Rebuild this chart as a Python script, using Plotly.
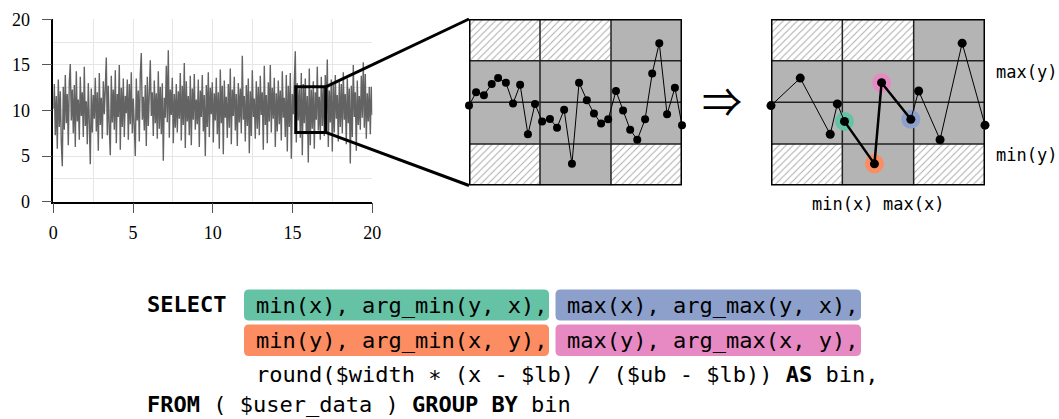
import plotly.graph_objects as go

W, H = 1059, 419

# ---------------- data ----------------
series_y = [
    10.2, 12.9, 7.3, 11.6, 5.8, 13.4, 8.2, 12.1, 6.5, 3.9, 12.6, 7.9, 13.9, 8.6, 11.8, 6.2, 13.1, 15.1, 8.9, 12.3,
    7.5, 12.8, 6.0, 14.3, 8.8, 11.2, 6.8, 13.7, 9.4, 12.0, 7.1, 14.8, 8.3, 11.0, 6.3, 13.0, 8.7, 4.1, 12.4, 7.6,
    11.7, 9.1, 13.6, 7.7, 12.0, 5.6, 14.1, 8.4, 11.4, 6.9, 13.2, 9.6, 12.5, 15.8, 7.3, 12.7, 8.0, 5.1, 13.8, 8.7,
    12.3, 7.9, 14.4, 6.4, 11.8, 9.3, 15.0, 5.7, 12.5, 8.2, 13.5, 7.1, 11.6, 9.7, 13.4, 6.8, 12.9, 8.5, 14.2, 7.5,
    11.3, 8.4, 5.0, 13.5, 8.9, 12.2, 6.6, 14.0, 16.3, 9.0, 11.5, 7.8, 12.8, 6.1, 13.7, 8.3, 12.6, 15.5, 9.4, 12.0,
    7.2, 13.3, 8.6, 11.9, 6.9, 14.3, 8.0, 12.6, 7.4, 13.0, 4.5, 11.4, 9.2, 14.9, 8.7, 16.6, 7.0, 12.3, 9.5, 13.6,
    6.4, 11.8, 8.1, 12.9, 7.6, 12.1, 9.1, 14.1, 6.7, 12.7, 8.4, 15.2, 5.9, 13.2, 8.8, 11.6, 7.3, 13.8, 6.2, 12.4,
    9.0, 14.0, 7.9, 11.2, 8.5, 13.4, 6.0, 12.2, 9.3, 13.9, 7.7, 11.7, 5.0, 12.8, 8.2, 14.2, 7.1, 12.5, 9.6, 13.1,
    6.5, 11.9, 8.9, 13.6, 7.4, 12.0, 5.8, 14.5, 8.6, 12.7, 5.2, 13.3, 9.2, 11.5, 7.0, 12.9, 8.1, 14.6, 6.3, 12.3,
    9.4, 13.7, 7.8, 11.8, 6.1, 13.0, 8.7, 12.4, 7.5, 16.0, 9.0, 11.6, 6.6, 12.8, 8.3, 13.5, 5.3, 12.1, 7.2, 14.4,
    9.3, 11.3, 6.9, 13.2, 8.0, 12.6, 7.3, 13.8, 9.5, 12.0, 5.7, 14.9, 8.4, 11.7, 6.4, 13.1, 8.8, 15.0, 7.6, 12.5,
    9.1, 13.6, 6.0, 11.9, 7.7, 13.3, 8.5, 12.2, 6.7, 14.3, 9.2, 11.4, 7.1, 13.9, 5.5, 12.7, 8.2, 14.1, 4.7, 11.8,
    9.6, 12.9, 16.5, 6.5, 13.0, 8.9, 12.4, 7.0, 14.1, 5.1, 12.9, 8.6, 13.5, 7.4, 11.6, 4.3, 14.6, 6.2, 12.3, 8.0,
    13.2, 5.8, 12.0, 9.0, 14.8, 7.8, 11.5, 6.8, 13.7, 8.3, 12.6, 7.2, 13.9, 9.4, 15.6, 6.0, 12.2, 8.7, 13.4, 5.5,
    12.8, 7.6, 13.9, 9.1, 11.7, 6.6, 13.1, 8.2, 12.9, 7.5, 14.2, 9.0, 11.8, 6.3, 13.5, 8.6, 12.4, 4.2, 12.7, 7.1,
    15.0, 9.3, 12.0, 5.6, 13.3, 8.4, 11.6, 7.9, 13.8, 9.2, 15.3, 8.1, 14.0, 6.9, 11.9, 8.8, 12.6, 7.4, 12.6, 9.5,
]
series_x_start = 0.0
series_x_end = 20.0

axis_ticks = [0, 5, 10, 15, 20]

zoom_box_x = [15.2, 17.08]
zoom_box_y = [7.6, 12.6]

detail_x = [0.0, 0.10, 0.21, 0.32, 0.41, 0.52, 0.62, 0.72, 0.83, 0.93,
            1.03, 1.14, 1.24, 1.34, 1.45, 1.55, 1.66, 1.76, 1.86, 1.96,
            2.07, 2.17, 2.27, 2.37, 2.48, 2.58, 2.68, 2.79, 2.90, 3.0]
detail_y = [1.92, 2.24, 2.17, 2.44, 2.58, 2.47, 1.97, 2.42, 1.23, 1.96,
            1.54, 1.60, 1.39, 1.82, 0.52, 2.47, 2.05, 1.73, 1.49, 1.59,
            2.27, 1.80, 1.34, 1.10, 1.59, 2.69, 3.42, 1.71, 2.35, 1.45]

grid_cols, grid_rows = 3, 4
cell_kind = [  # top row first
    ["hatch", "hatch", "gray"],
    ["gray", "gray", "gray"],
    ["gray", "gray", "gray"],
    ["hatch", "gray", "hatch"],
]
highlight_bin = 1

agg_colors = {"min_x": "#66c2a5", "max_x": "#8da0cb", "min_y": "#fc8d62", "max_y": "#e78ac3"}

sql_keyword_select = "SELECT"
sql_parts_line1 = ["min(x), arg_min(y, x),", "max(x), arg_max(y, x),"]
sql_parts_line2 = ["min(y), arg_min(x, y),", "max(y), arg_max(x, y),"]
sql_line3 = "round($width \u2217 (x - $lb) / ($ub - $lb)) <b>AS</b> bin,"
sql_line4 = "<b>FROM</b> ( $user_data ) <b>GROUP BY</b> bin"

# ---------------- layout helpers ----------------
def dom_x(a, b):
    return [a / W, b / W]

def dom_y(top, bottom):
    return [1 - bottom / H, 1 - top / H]

def px(x):
    return x / W

def py(y):
    return 1 - y / H

def to_paper(v, rng, dom):
    return dom[0] + (v - rng[0]) / (rng[1] - rng[0]) * (dom[1] - dom[0])

L_dx, L_dy = dom_x(53.3, 372.3), dom_y(19.3, 201.7)
M_dx, M_dy = dom_x(469, 682), dom_y(19, 185.5)
R_dx, R_dy = dom_x(771, 985), dom_y(19, 185.5)
L_rng = [0, 20]

fig = go.Figure()

# ---------------- left: full series ----------------
fig.add_trace(go.Scatter(
    y=series_y, x0=series_x_start, dx=(series_x_end - series_x_start) / (len(series_y) - 1),
    mode="lines", line=dict(color="#636363", width=1.4), hoverinfo="skip", xaxis="x", yaxis="y"))

# ---------------- M4 aggregation from the detail data ----------------
bins = {}
for i, xv in enumerate(detail_x):
    b = min(int(xv), grid_cols - 1)
    bins.setdefault(b, []).append(i)
agg = {}
for b, idxs in bins.items():
    agg[b] = {
        "min_x": min(idxs, key=lambda k: detail_x[k]),
        "max_x": max(idxs, key=lambda k: detail_x[k]),
        "min_y": min(idxs, key=lambda k: detail_y[k]),
        "max_y": max(idxs, key=lambda k: detail_y[k]),
    }
selected = sorted({k for b in agg for k in agg[b].values()})
hl = agg[highlight_bin]
hl_sorted = sorted(hl.values())


def add_cells(xa, ya):
    for r, row in enumerate(cell_kind):
        y0 = grid_rows - 1 - r
        y1 = y0 + 1
        for c, kind in enumerate(row):
            kw = dict(x=[c, c + 1, c + 1, c, c], y=[y0, y0, y1, y1, y0], mode="lines",
                      line=dict(width=0), fill="toself", hoverinfo="skip", xaxis=xa, yaxis=ya)
            if kind == "gray":
                kw["fillcolor"] = "#b4b4b4"
            else:
                kw["fillcolor"] = "white"
                kw["fillpattern"] = dict(shape="/", fgcolor="#a6a6a6", bgcolor="white",
                                         size=5, solidity=0.18, fillmode="replace")
            fig.add_trace(go.Scatter(**kw))
    gx, gy = [], []
    for c in range(1, grid_cols):
        gx += [c, c, None]
        gy += [0, grid_rows, None]
    for r in range(1, grid_rows):
        gx += [0, grid_cols, None]
        gy += [r, r, None]
    fig.add_trace(go.Scatter(x=gx, y=gy, mode="lines", line=dict(color="#222222", width=1.5),
                             hoverinfo="skip", xaxis=xa, yaxis=ya))


# ---------------- middle: zoomed raw data ----------------
add_cells("x2", "y2")
fig.add_trace(go.Scatter(x=detail_x, y=detail_y, mode="lines+markers",
                         line=dict(color="black", width=1), marker=dict(color="black", size=8),
                         cliponaxis=False, hoverinfo="skip", xaxis="x2", yaxis="y2"))

# ---------------- right: M4 result ----------------
add_cells("x3", "y3")
ring_keys = ["min_x", "min_y", "max_y", "max_x"]
fig.add_trace(go.Scatter(x=[detail_x[hl[k]] for k in ring_keys], y=[detail_y[hl[k]] for k in ring_keys],
                         mode="markers", marker=dict(size=19, color=[agg_colors[k] for k in ring_keys]),
                         cliponaxis=False, hoverinfo="skip", xaxis="x3", yaxis="y3"))
fig.add_trace(go.Scatter(x=[detail_x[k] for k in selected], y=[detail_y[k] for k in selected],
                         mode="lines", line=dict(color="black", width=1), cliponaxis=False,
                         hoverinfo="skip", xaxis="x3", yaxis="y3"))
fig.add_trace(go.Scatter(x=[detail_x[k] for k in hl_sorted], y=[detail_y[k] for k in hl_sorted],
                         mode="lines", line=dict(color="black", width=2.5), cliponaxis=False,
                         hoverinfo="skip", xaxis="x3", yaxis="y3"))
fig.add_trace(go.Scatter(x=[detail_x[k] for k in selected], y=[detail_y[k] for k in selected],
                         mode="markers", marker=dict(color="black", size=9), cliponaxis=False,
                         hoverinfo="skip", xaxis="x3", yaxis="y3"))

shapes = []
# zoom rectangle on the full series
shapes.append(dict(type="rect", xref="x", yref="y", x0=zoom_box_x[0], x1=zoom_box_x[1],
                   y0=zoom_box_y[0], y1=zoom_box_y[1], line=dict(color="black", width=3), layer="above"))
# connectors
for zy, my in [(zoom_box_y[1], grid_rows), (zoom_box_y[0], 0)]:
    shapes.append(dict(type="line", xref="paper", yref="paper",
                       x0=to_paper(zoom_box_x[1], L_rng, L_dx), y0=to_paper(zy, L_rng, L_dy),
                       x1=to_paper(0, [0, grid_cols], M_dx), y1=to_paper(my, [0, grid_rows], M_dy),
                       line=dict(color="black", width=3)))
# panel borders
for xa, ya in [("x2", "y2"), ("x3", "y3")]:
    shapes.append(dict(type="rect", xref=xa, yref=ya, x0=0, x1=grid_cols, y0=0, y1=grid_rows,
                       line=dict(color="black", width=3), layer="above"))


def rrect(x0, y0, x1, y1, color, r=5):
    rx, ry = r / W, r / H
    X0, X1, Y0, Y1 = px(x0), px(x1), py(y0), py(y1)
    path = (f"M {X0+rx},{Y0} L {X1-rx},{Y0} Q {X1},{Y0} {X1},{Y0-ry} "
            f"L {X1},{Y1+ry} Q {X1},{Y1} {X1-rx},{Y1} L {X0+rx},{Y1} "
            f"Q {X0},{Y1} {X0},{Y1+ry} L {X0},{Y0-ry} Q {X0},{Y0} {X0+rx},{Y0} Z")
    return dict(type="path", xref="paper", yref="paper", path=path, fillcolor=color,
                line=dict(width=0), layer="below")


shapes.append(rrect(244, 289.5, 549, 320.5, agg_colors["min_x"]))
shapes.append(rrect(555.5, 289.5, 861, 320.5, agg_colors["max_x"]))
shapes.append(rrect(244, 324.5, 549, 356, agg_colors["min_y"]))
shapes.append(rrect(555.5, 324.5, 861, 356, agg_colors["max_y"]))

mono = "DejaVu Sans Mono"
ann = []


def text(x, y, s, size=22, xanchor="left", family=mono, xref="paper", yref="paper"):
    ann.append(dict(x=x, y=y, xref=xref, yref=yref, text=s, showarrow=False, xanchor=xanchor,
                    yanchor="middle", font=dict(family=family, size=size, color="black"), borderpad=0))


text(px(146), py(304), f"<b>{sql_keyword_select}</b>")
text(px(254.5), py(305), sql_parts_line1[0])
text(px(566), py(305), sql_parts_line1[1])
text(px(254.5), py(340.5), sql_parts_line2[0])
text(px(566), py(340.5), sql_parts_line2[1])
text(px(254.5), py(374), sql_line3)
text(px(146), py(404), sql_line4)

# panel labels
text(px(995), py(72), "max(y)", size=17)
text(px(995), py(155), "min(y)", size=17)
text(1, py(204), "min(x)", size=17, xanchor="center", xref="x3")
text(2, py(204), "max(x)", size=17, xanchor="center", xref="x3")

# arrow
text(px(722), py(100), "\u21d2", size=40, xanchor="center", family="Noto Sans CJK JP")

tickfont = dict(family="Liberation Serif", size=18, color="black")
common = dict(range=L_rng, tickmode="array", tickvals=axis_ticks, ticks="outside", ticklen=10, tickwidth=1,
              tickcolor="#555555", showline=True, linecolor="black", linewidth=1.5, showgrid=True,
              gridcolor="#e6e6e6", gridwidth=1, zeroline=False, tickfont=tickfont,
              minor=dict(dtick=2.5, tick0=0, showgrid=True, gridcolor="#e6e6e6", ticks=""),
              fixedrange=True, automargin=False)

fig.update_layout(
    width=W, height=H, margin=dict(l=0, r=0, t=0, b=0, autoexpand=False),
    paper_bgcolor="white", plot_bgcolor="white", showlegend=False,
    xaxis=dict(domain=L_dx, anchor="y", ticklabelstandoff=4, **common),
    yaxis=dict(domain=L_dy, anchor="x", ticklabelstandoff=8, **common),
    xaxis2=dict(domain=M_dx, range=[0, grid_cols], visible=False, anchor="y2", fixedrange=True),
    yaxis2=dict(domain=M_dy, range=[0, grid_rows], visible=False, anchor="x2", fixedrange=True),
    xaxis3=dict(domain=R_dx, range=[0, grid_cols], visible=False, anchor="y3", fixedrange=True),
    yaxis3=dict(domain=R_dy, range=[0, grid_rows], visible=False, anchor="x3", fixedrange=True),
    shapes=shapes, annotations=ann,
)

fig.write_html("out.html", config={"displayModeBar": False},
               post_script="document.body.style.margin='0';document.body.style.overflow='hidden';")
